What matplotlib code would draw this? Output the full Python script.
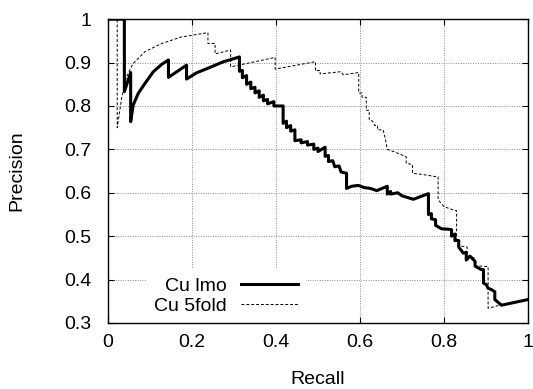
import matplotlib.pyplot as plt

# Cu lmo (solid) - recall / precision
lmo_recall = [0, 0.039, 0.039, 0.054, 0.054, 0.060, 0.072, 0.088, 0.108, 0.128, 0.144, 0.144,
              0.187, 0.187, 0.21, 0.243, 0.275, 0.313, 0.313,
              0.32, 0.32, 0.33, 0.33, 0.34, 0.34, 0.35, 0.35, 0.36, 0.36, 0.37, 0.37, 0.38, 0.38,
              0.395, 0.395, 0.417, 0.417, 0.425, 0.425, 0.435, 0.435, 0.445, 0.445, 0.46, 0.46,
              0.475, 0.475, 0.49, 0.49, 0.50, 0.50, 0.517, 0.517, 0.525, 0.525, 0.535, 0.54,
              0.55, 0.555, 0.568, 0.568, 0.58, 0.596, 0.61, 0.625, 0.64, 0.665, 0.665, 0.673,
              0.673, 0.69, 0.70, 0.727, 0.763, 0.763, 0.77, 0.77, 0.78, 0.78, 0.794, 0.81, 0.818,
              0.818, 0.826, 0.826, 0.835, 0.835, 0.846, 0.853, 0.853, 0.862, 0.874, 0.874, 0.889,
              0.894, 0.894, 0.901, 0.905, 0.913, 0.921, 0.921, 0.937, 1.0]
lmo_prec = [1.0, 1.0, 0.833, 0.877, 0.764, 0.802, 0.829, 0.852, 0.879, 0.896, 0.906, 0.866,
            0.894, 0.862, 0.876, 0.889, 0.902, 0.913, 0.88,
            0.882, 0.865, 0.87, 0.85, 0.855, 0.84, 0.843, 0.83, 0.835, 0.82, 0.825, 0.812, 0.815, 0.805,
            0.81, 0.80, 0.80, 0.76, 0.765, 0.75, 0.755, 0.742, 0.745, 0.72, 0.722, 0.715,
            0.718, 0.71, 0.712, 0.70, 0.703, 0.695, 0.705, 0.684, 0.686, 0.672, 0.674, 0.66,
            0.662, 0.648, 0.645, 0.61, 0.615, 0.617, 0.612, 0.61, 0.605, 0.615, 0.597, 0.603,
            0.597, 0.60, 0.593, 0.585, 0.598, 0.55, 0.552, 0.54, 0.538, 0.525, 0.517, 0.516, 0.515,
            0.50, 0.505, 0.49, 0.49, 0.475, 0.461, 0.463, 0.445, 0.454, 0.442, 0.431, 0.423,
            0.423, 0.392, 0.388, 0.38, 0.377, 0.372, 0.354, 0.341, 0.354]

# Cu 5fold (dashed)
fold_recall = [0, 0.022, 0.022, 0.0325, 0.044, 0.060, 0.088, 0.128, 0.175, 0.238, 0.238, 0.255,
               0.255, 0.292, 0.292, 0.398, 0.398, 0.494, 0.494, 0.505, 0.505, 0.535, 0.555, 0.560,
               0.597, 0.597, 0.605, 0.605, 0.615, 0.615, 0.622, 0.622, 0.630, 0.635, 0.642, 0.642,
               0.655, 0.660, 0.665, 0.68, 0.71, 0.71, 0.725, 0.725, 0.75, 0.782, 0.786, 0.786,
               0.80, 0.827, 0.83, 0.83, 0.842, 0.855, 0.855, 0.872, 0.874, 0.905, 0.905, 0.937, 1.0]
fold_prec = [1.0, 1.0, 0.75, 0.818, 0.867, 0.898, 0.925, 0.944, 0.959, 0.969, 0.944, 0.944,
             0.92, 0.929, 0.89, 0.912, 0.885, 0.902, 0.881, 0.882, 0.874, 0.877, 0.879, 0.872,
             0.877, 0.83, 0.83, 0.82, 0.82, 0.79, 0.79, 0.768, 0.765, 0.755, 0.755, 0.745,
             0.745, 0.726, 0.70, 0.695, 0.683, 0.668, 0.665, 0.645, 0.642, 0.637, 0.637, 0.584,
             0.568, 0.559, 0.559, 0.49, 0.477, 0.475, 0.455, 0.45, 0.432, 0.43, 0.334, 0.342, 0.353]

x_ticks = [0, 0.2, 0.4, 0.6, 0.8, 1]
x_ticklabels = ['0', '0.2', '0.4', '0.6', '0.8', '1']
y_ticks = [0.3, 0.4, 0.5, 0.6, 0.7, 0.8, 0.9, 1]
y_ticklabels = ['0.3', '0.4', '0.5', '0.6', '0.7', '0.8', '0.9', '1']

plt.rcParams['font.family'] = ['Liberation Sans', 'DejaVu Sans']
fs = 14
fig = plt.figure(figsize=(5.33, 3.89), dpi=100)
ax = fig.add_axes([0.2026, 0.1697, 0.788, 0.781])

ax.plot(lmo_recall, lmo_prec, color='black', lw=2.2, label='Cu lmo', zorder=3)
ax.plot(fold_recall, fold_prec, color='black', lw=0.7, dashes=(3, 2), label='Cu 5fold', zorder=3)

ax.set_xlim(0, 1)
ax.set_ylim(0.3, 1)
ax.set_xticks(x_ticks)
ax.set_xticklabels(x_ticklabels)
ax.set_yticks(y_ticks)
ax.set_yticklabels(y_ticklabels)
ax.tick_params(direction='in', length=4, width=0.8, top=True, right=True, labelsize=fs)
ax.tick_params(axis='x', pad=8)
ax.tick_params(axis='y', pad=12)
ax.grid(True, color='#888888', linestyle=(0, (1, 1.5)), linewidth=0.7)
for s in ax.spines.values():
    s.set_linewidth(1.0)

ax.set_xlabel('Recall', fontsize=fs, labelpad=14)
ax.set_ylabel('Precision', fontsize=fs, labelpad=28)

leg = ax.legend(loc='lower right', bbox_to_anchor=(0.47, 0.0), borderaxespad=0,
                markerfirst=False, fontsize=fs,
                handlelength=2.9, handletextpad=0.75, labelspacing=0.15, borderpad=0.4,
                frameon=True, fancybox=False, edgecolor='white', facecolor='white', framealpha=1)
leg.set_zorder(2)

fig.savefig('out.png', dpi=100)
